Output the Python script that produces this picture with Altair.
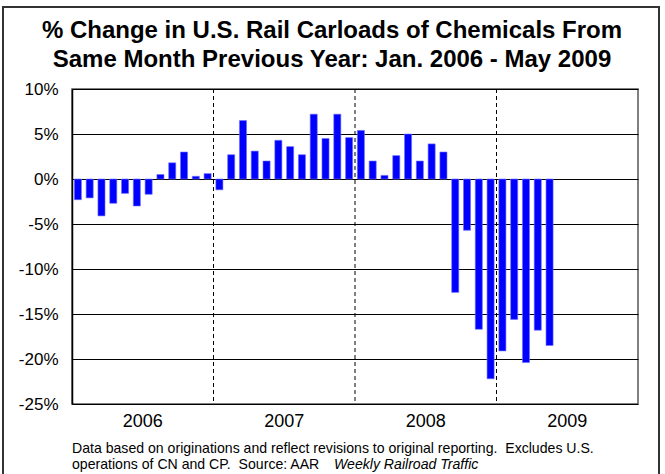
import altair as alt
import pandas as pd

# Year-over-year % change in U.S. rail carloads of chemicals, Jan 2006 - May 2009
pct_change = [
    -2.3, -2.1, -4.1, -2.7, -1.6, -3.0, -1.7, 0.5, 1.8, 3.0, 0.3, 0.6,   # 2006
    -1.2, 2.7, 6.5, 3.1, 2.0, 4.3, 3.6, 2.7, 7.2, 4.5, 7.2, 4.6,         # 2007
    5.4, 2.0, 0.4, 2.6, 5.0, 2.0, 3.9, 3.0, -12.6, -5.7, -16.7, -22.2,   # 2008
    -19.1, -15.6, -20.4, -16.8, -18.5,                                    # 2009 (Jan-May)
]
years = ["2006", "2007", "2008", "2009"]
y_ticks = [10, 5, 0, -5, -10, -15, -20, -25]

NBSP2 = "\u00a0\u00a0"
title_lines = [
    "% Change in U.S. Rail Carloads of Chemicals From",
    "Same Month Previous Year: Jan. 2006 - May 2009",
]
note_line1 = "Data based on originations and reflect revisions to original reporting." + NBSP2 + "Excludes U.S."
note_line2 = "operations of CN and CP." + NBSP2 + "Source: AAR"
note_italic = "Weekly Railroad Traffic"

FONT = "Liberation Sans"
W, H = 566, 315

bars_df = pd.DataFrame({"month": range(len(pct_change)), "pct": pct_change})
bars_df["x0"] = bars_df["month"] + 0.2
bars_df["x1"] = bars_df["month"] + 0.8

years_df = pd.DataFrame({"year": years})
years_df["mid"] = [12 * i + 6 for i in range(len(years))]
bounds_df = pd.DataFrame({"edge": [12 * i for i in range(1, len(years))]})

x_scale = alt.Scale(domain=[0, 12 * len(years)], nice=False, zero=False)
y_scale = alt.Scale(domain=[-25, 10], nice=False)

bars = alt.Chart(bars_df).mark_bar(color="#0000ff", stroke="#6f6fff", strokeWidth=0.6).encode(
    x=alt.X("x0:Q", scale=x_scale, axis=None),
    x2="x1:Q",
    y=alt.Y(
        "pct:Q",
        scale=y_scale,
        axis=alt.Axis(
            values=y_ticks,
            labelExpr="datum.value + '%'",
            title=None,
            grid=True,
            gridColor="#000000",
            gridWidth=1,
            gridOpacity=1,
            ticks=False,
            domain=True,
            domainColor="#000000",
            domainWidth=1.5,
            labelFont=FONT,
            labelFontSize=17,
            labelColor="#000000",
            labelPadding=14,
        ),
    ),
    y2=alt.datum(0),
)

dividers = alt.Chart(bounds_df).mark_rule(
    color="#000000", strokeDash=[4, 3], strokeWidth=1
).encode(x=alt.X("edge:Q", scale=x_scale))

year_labels = alt.Chart(years_df).mark_text(
    font=FONT, fontSize=18, color="#000000", baseline="alphabetic", align="center"
).encode(
    x=alt.X("mid:Q", scale=x_scale),
    y=alt.value(H + 23),
    text="year:N",
)


def text_layer(s, x, y, size, align="left", weight="normal", style="normal"):
    return alt.Chart(pd.DataFrame({"t": [s]})).mark_text(
        font=FONT, fontSize=size, fontWeight=weight, fontStyle=style,
        color="#000000", align=align, baseline="alphabetic",
    ).encode(x=alt.value(x), y=alt.value(y), text="t:N")


# two-line bold heading, centred on the figure
title1 = text_layer(title_lines[0], 260, -51, 24, align="center", weight="bold")
title2 = text_layer(title_lines[1], 260, -22.5, 24, align="center", weight="bold")

# source note under the axis
note1 = text_layer(note_line1, 0, H + 49, 14.1)
note2 = text_layer(note_line2, 0, H + 65, 14.1)
note3 = text_layer(note_italic, 262, H + 65, 14.1, style="italic")

# frame around the whole figure
frame = alt.Chart(pd.DataFrame({"k": [0]})).mark_rect(
    fill=None, stroke="#333333", strokeWidth=2
).encode(
    x=alt.value(-69), x2=alt.value(587),
    y=alt.value(-82), y2=alt.value(400),
)

chart = alt.layer(
    bars, dividers, year_labels, title1, title2, note1, note2, note3, frame
).properties(
    width=W,
    height=H,
    autosize=alt.AutoSizeParams(type="none"),
    padding={"left": 72, "top": 89, "right": 27, "bottom": 70},
).configure_view(
    stroke="#555555", strokeWidth=1.5
)

chart.save("out.html", embed_options={"renderer": "svg", "actions": False})
